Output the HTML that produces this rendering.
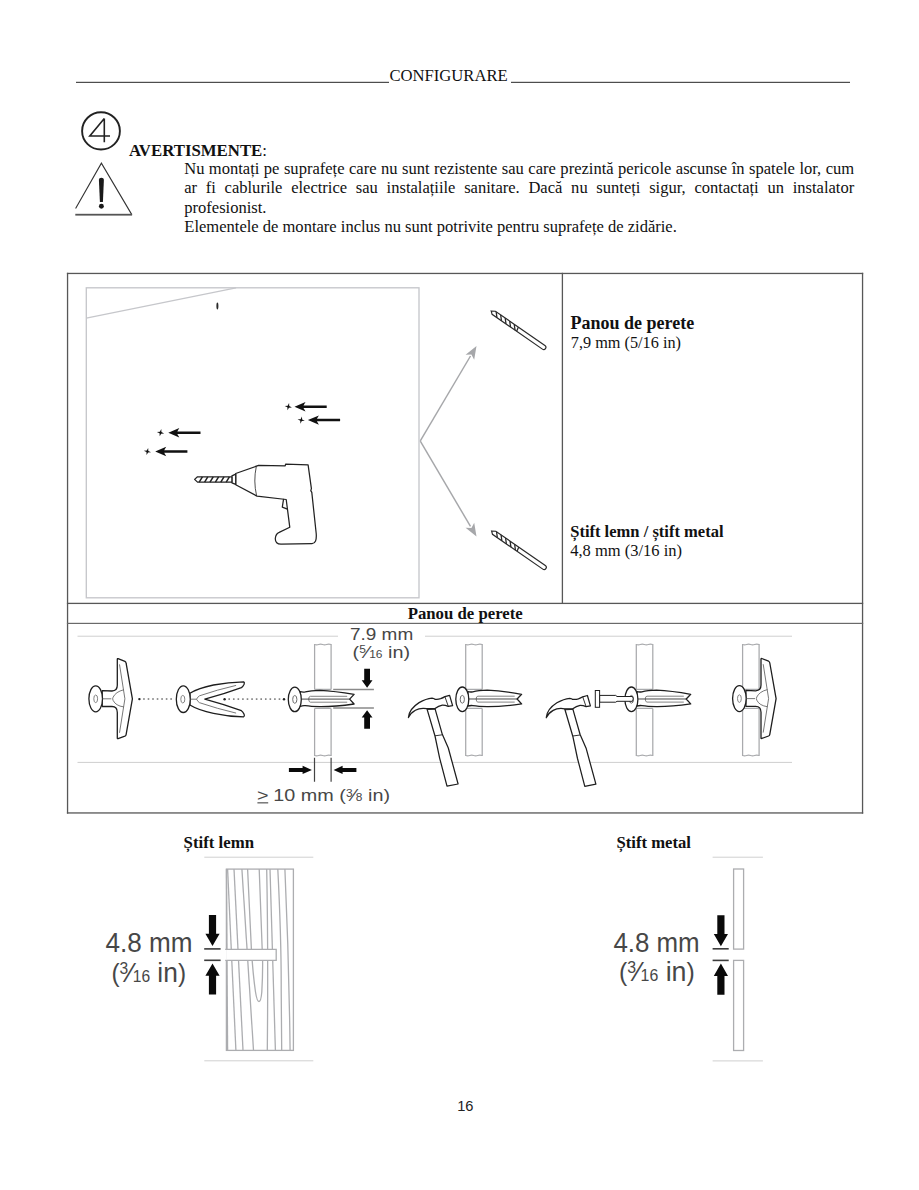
<!DOCTYPE html>
<html><head><meta charset="utf-8"><title>Configurare</title>
<style>
html,body{margin:0;padding:0;background:#fff;}
body{width:919px;height:1190px;overflow:hidden;position:relative;font-family:"Liberation Serif",serif;color:#111;}
svg{position:absolute;left:0;top:0;}
.j{position:absolute;white-space:nowrap;font-size:16.55px;line-height:19px;text-align:justify;text-align-last:justify;}
</style></head><body>
<svg width="919" height="1190" viewBox="0 0 919 1190" font-family="Liberation Serif">
<!-- header -->
<g id="hdr">
<rect x="76" y="81.8" width="313" height="1.1" fill="#3a3a3a"/>
<rect x="511" y="81.8" width="339" height="1.1" fill="#3a3a3a"/>
<text x="389.4" y="80.6" font-size="16.65" fill="#111">CONFIGURARE</text>
</g>
<!-- step circle 4 -->
<g id="step" fill="none" stroke="#222">
<ellipse cx="101" cy="130.9" rx="18.9" ry="18.6" stroke-width="1.9"/>
<path d="M104.3,118.6 L89.8,136 L110,136 M104.3,118.6 L104.3,142.3" stroke-width="1.6" stroke-linejoin="miter"/>
</g>
<!-- warning triangle -->
<g id="warn">
<path d="M75.6,208.6 L101.4,163.2 L131.8,214.6" fill="none" stroke="#333" stroke-width="1.1"/>
<rect x="75.3" y="213.8" width="56.8" height="1.8" fill="#555"/>
<path d="M98.9,179.8 Q98.9,177.7 101.4,177.7 Q103.9,177.7 103.9,179.8 L102.9,202 L99.9,202 Z" fill="#1a1a1a"/>
<circle cx="101.4" cy="206.3" r="2.45" fill="#1a1a1a"/>
</g>
<!-- warning text -->
<text x="128.9" y="155.7" font-size="16.8" font-weight="bold" fill="#111">AVERTISMENTE<tspan font-weight="normal">:</tspan></text>
<text x="184.3" y="212.5" font-size="16.55" fill="#111">profesionist.</text>
<text x="184.3" y="231.6" font-size="16.55" fill="#111">Elementele de montare inclus nu sunt potrivite pentru suprafețe de zidărie.</text>

<!-- table -->
<g id="table" fill="#575757">
<rect x="66.9" y="272.8" width="796.3" height="1.3"/>
<rect x="66.9" y="272.8" width="1.3" height="540.8"/>
<rect x="861.9" y="272.8" width="1.3" height="540.8"/>
<rect x="66.9" y="812.3" width="796.3" height="1.3"/>
<rect x="561.75" y="272.8" width="1.3" height="331"/>
<rect x="66.9" y="602.75" width="796.3" height="1.3"/>
<rect x="66.9" y="622.8" width="796.3" height="1.2" fill="#6a6a6a"/>
</g>
<text x="570.6" y="328.7" font-size="18" font-weight="bold" fill="#111">Panou de perete</text>
<text x="570.8" y="347.9" font-size="16.25" fill="#111">7,9 mm (5/16 in)</text>
<text x="570.2" y="537.3" font-size="16.55" font-weight="bold" fill="#111">Știft lemn / știft metal</text>
<text x="570.2" y="556.1" font-size="16.5" fill="#111">4,8 mm (3/16 in)</text>
<text x="407.7" y="619" font-size="16.75" font-weight="bold" fill="#111">Panou de perete</text>


<!-- FIGURE 1: wall + drill -->
<g id="fig1">
<rect x="86.3" y="287.8" width="332.7" height="310" fill="none" stroke="#c6c7cb" stroke-width="1.35"/>
<line x1="86.3" y1="318.2" x2="236" y2="287.8" stroke="#c6c7cb" stroke-width="1.3"/>
<ellipse cx="217.4" cy="306" rx="1" ry="3.4" fill="#2a2a2a"/>
<defs>
<path id="cross" d="M0,-3.7 L0.8,-0.8 L3.7,0 L0.8,0.8 L0,3.7 L-0.8,0.8 L-3.7,0 L-0.8,-0.8 Z" transform="rotate(12)"/>
<path id="barr" d="M0,0 L11,-4.7 L9,-1.25 L32.2,-1.25 L32.2,1.25 L9,1.25 L11,4.7 Z"/>
</defs>
<g fill="#111">
<use href="#cross" x="288.3" y="406.7"/><use href="#barr" x="294.5" y="406.7"/>
<use href="#cross" x="301.2" y="420.1"/><use href="#barr" x="307.9" y="420.1"/>
<use href="#cross" x="160.5" y="432.7"/><use href="#barr" x="168.3" y="432.7"/>
<use href="#cross" x="147.4" y="451.5"/><use href="#barr" x="155.2" y="451.5"/>
</g>
<!-- drill -->
<g fill="#fff" stroke="#222" stroke-width="1.25" stroke-linejoin="round">
<path d="M235.7,473.5 L258.6,465.4 L285.2,465.8 L285.6,464.2 L308.1,464.9 L311.4,488.6 L310.8,490.6 L311.8,492.4 L316.2,533.5 Q317,543.4 312,543.6 L281,544.2 Q275.2,544 275.3,538.5 Q275.8,533.6 279.2,532.4 L289.8,527.3 L286.2,499.5 L257,496.1 L235.7,484.7 Z"/>
<path d="M283.6,498.8 L282.3,507.2 L287.4,509.2" fill="none"/>
<path d="M256.3,466.5 Q253.2,481 256.6,495.8" fill="none" stroke-width="0.8"/>
<path d="M231.9,475.8 L235.7,474.2 L235.7,484.4 L231.9,482.8 Z"/>
<path d="M194.6,479.4 L197.5,476.8 L231.9,476.8 L231.9,482.1 L197.5,482.1 Z"/>
<path d="M199.2,482.1 L202.4,476.8 M204.6,482.1 L207.8,476.8 M210,482.1 L213.2,476.8 M215.4,482.1 L218.6,476.8 M220.8,482.1 L224,476.8 M226.2,482.1 L229.4,476.8" fill="none" stroke-width="1.5"/>
</g>
<!-- gray arrows -->
<g stroke="#a6a7aa" stroke-width="1.45" fill="none">
<line x1="420.3" y1="440.8" x2="470.5" y2="356"/>
<line x1="420.3" y1="441.2" x2="470.5" y2="526.4"/>
</g>
<g fill="#a6a7aa">
<path d="M0,0 L-13,-5 L-10,0 L-13,5 Z" transform="translate(476.5,346) rotate(-59.35)"/>
<path d="M0,0 L-13,-5 L-10,0 L-13,5 Z" transform="translate(476.5,536.5) rotate(59.5)"/>
</g>
<!-- drill bits -->
<defs>
<g id="bit" fill="#fff" stroke="#2a2a2a" stroke-width="1.2">
<path d="M0,0 L3.6,-2.2 L63.8,-2.2 Q66,-2.2 66,0 Q66,2.2 63.8,2.2 L2.6,2.2 Z"/>
<path d="M4.5,-2.2 L8.5,2.2 M10,-2.2 L14,2.2 M15.5,-2.2 L19.5,2.2 M21,-2.2 L25,2.2 M26.5,-2.2 L30.5,2.2 M31.5,-2.2 L32.5,2.2" stroke-width="1.3"/>
</g>
</defs>
<use href="#bit" transform="translate(491.2,311) rotate(34.7)"/>
<use href="#bit" transform="translate(491.6,531) rotate(34.7)"/>
</g>


<!-- FIGURE 2: toggle anchor sequence -->
<g id="fig2">
<defs>
<g id="tanchor" stroke="#1e1e1e" stroke-width="1.3" fill="#fff" stroke-linejoin="round">
<path d="M6.5,-8.2 L16.3,-7.8 Q21.6,-8 21.6,-13.5 L21.6,-39.6 Q21.6,-40.4 22.4,-40.1 L29.2,-37.4 Q30.3,-36.8 30.4,-35.6 L36.7,0.1 L30.4,35.8 Q30.2,37 29.2,37.4 L22.4,39.8 Q21.6,40.1 21.6,39.3 L21.6,13.6 Q21.6,7.7 16.3,7.7 L6.5,7.7 Z"/>
<ellipse cx="0" cy="0" rx="6.8" ry="13"/>
<ellipse cx="0" cy="0" rx="1.9" ry="3.8" stroke="#777" stroke-width="0.9"/>
<path d="M6.8,0 L15.6,0 M28,-9 Q20,-7 17.4,-1.6 Q16.5,0 17.4,1.6 Q20,7 28,8.1 M23.8,-34.4 L29.2,0 L23.8,34" fill="none" stroke="#555" stroke-width="0.8"/>
</g>
<g id="canchor" stroke="#1e1e1e" stroke-width="1.3" fill="#fff" stroke-linejoin="round">
<path d="M5.5,-7.7 Q8,-7 10.5,-7.5 Q16,-8.9 25,-9.1 Q40,-8.4 59.3,-5 L54.8,-0.3 L59.3,4.6 Q40,7.4 25,7.3 Q16,7.1 10.5,6.3 Q8,6 5.5,6.9 Z"/>
<ellipse cx="0" cy="0" rx="6.5" ry="12.3"/>
<ellipse cx="0" cy="0" rx="2.1" ry="3.9" stroke="#666" stroke-width="0.95"/>
<path d="M52.4,-3.1 L15.6,-3.1 Q13.9,-3.1 13.9,-0.3 Q13.9,2.8 15.6,2.8 L52.4,2.8" fill="none" stroke="#777" stroke-width="0.9"/>
<path d="M6.5,-0.3 L54.8,-0.3" fill="none" stroke="#333" stroke-width="0.9"/>
</g>
<g id="wall" stroke="#a9aaad" stroke-width="1.25" fill="none">
<path d="M0,0 L0,45.4 M16.5,0 L16.5,45.4 M0,64.4 L0,112 M16.5,64.4 L16.5,112 M0,45.4 L16.5,45.4 M0,64.4 L16.5,64.4"/>
<path d="M0,0.5 Q2,1.3 4,0.5 T8,0.5 T12,0.5 T16.5,0.5 M0,111.5 Q2,112.3 4,111.5 T8,111.5 T12,111.5 T16.5,111.5"/>
</g>
<g id="hammer" stroke="#1e1e1e" stroke-width="1.25" fill="#fff" stroke-linejoin="round">
<path d="M426.9,708.6 L435,736 L439.7,758.3 L447,786.1 L458.1,784 L448.3,748 L442.3,734.3 L435,708.6 Z"/>
<path d="M408.4,717.6 Q409,709 419.1,702.6 Q426,698.6 432,698.1 Q434,698.4 434.6,699.1 Q437.5,699.6 440.6,698.7 Q443,697.8 444.9,696.6 L449.6,695.3 L452.6,705.6 L448.3,706.4 Q445,705 442.3,705.1 Q438.5,705.8 435,708.6 L426.9,708.6 Q420,707.5 415.4,710.2 Q410.5,713 408.4,717.6 Z"/>
<path d="M444.9,696.6 L448.3,706.4 M427.3,709.6 L435,709.2 M435,735.8 L442.3,734.8" fill="none" stroke-width="0.9"/>
</g>
</defs>
<!-- guide lines -->
<g fill="#cfcfcf">
<rect x="77.5" y="635.7" width="260.5" height="1"/>
<rect x="425" y="635.7" width="367" height="1"/>
<rect x="77.5" y="761.9" width="714.5" height="1"/>
</g>
<!-- walls -->
<use href="#wall" x="314.6" y="644"/>
<use href="#wall" x="465.7" y="644"/>
<use href="#wall" x="636.3" y="644"/>
<use href="#wall" x="742.6" y="644"/>
<!-- dotted lines -->
<g fill="#222">
<circle cx="139.4" cy="699.1" r="1.2"/>
<circle cx="224.6" cy="699.2" r="1.2"/>
<circle cx="284" cy="699.2" r="1.2"/>
</g>
<g fill="#7a7a7a"><rect x="143.15" y="698.2" width="1.6" height="1.6"/><rect x="147.68" y="698.2" width="1.6" height="1.6"/><rect x="152.21" y="698.2" width="1.6" height="1.6"/><rect x="156.74" y="698.2" width="1.6" height="1.6"/><rect x="161.27" y="698.2" width="1.6" height="1.6"/><rect x="165.80" y="698.2" width="1.6" height="1.6"/><rect x="170.33" y="698.2" width="1.6" height="1.6"/><rect x="228.40" y="698.3" width="1.6" height="1.6"/><rect x="232.97" y="698.3" width="1.6" height="1.6"/><rect x="237.54" y="698.3" width="1.6" height="1.6"/><rect x="242.11" y="698.3" width="1.6" height="1.6"/><rect x="246.68" y="698.3" width="1.6" height="1.6"/><rect x="251.25" y="698.3" width="1.6" height="1.6"/><rect x="255.82" y="698.3" width="1.6" height="1.6"/><rect x="260.39" y="698.3" width="1.6" height="1.6"/><rect x="264.96" y="698.3" width="1.6" height="1.6"/><rect x="269.53" y="698.3" width="1.6" height="1.6"/><rect x="274.10" y="698.3" width="1.6" height="1.6"/><rect x="278.67" y="698.3" width="1.6" height="1.6"/></g>
<!-- anchors -->
<use href="#tanchor" x="95.7" y="698.8"/>
<g transform="translate(183.3,699.2)" stroke="#1e1e1e" stroke-width="1.3" fill="#fff" stroke-linejoin="round">
<path d="M6.6,-6 Q15,-11 30.2,-14.2 Q45,-17 60.4,-17.3 Q61.5,-16.6 60.8,-15 Q59.6,-12.5 58.1,-11.6 Q40,-5 21.5,0 Q40,5 58.1,11.5 Q59.6,12.5 60.8,15 Q61.5,17 60.4,17.6 Q45,17.4 30.2,14.1 Q15,11 6.6,5.8 Z"/>
<ellipse cx="0" cy="0" rx="7" ry="13.3"/>
<ellipse cx="-0.5" cy="0" rx="2" ry="3.8" stroke="#777" stroke-width="0.9"/>
<path d="M7,0 L13.2,0 Q15,-3 16.2,-3.4 Q34,-9.5 52.8,-13.8 M13.2,0 Q15,3 16.2,3.5 Q34,9.5 52.8,13.9" fill="none" stroke="#555" stroke-width="0.8"/>
</g>
<use href="#canchor" x="294.8" y="699.4"/>
<use href="#canchor" x="462.3" y="699.3"/>
<use href="#canchor" x="631.4" y="699.3"/>
<use href="#tanchor" x="739.4" y="698.6"/>
<!-- pin -->
<g stroke="#1e1e1e" stroke-width="1" fill="#fff">
<path d="M599.6,695.4 L615.7,695.4 L617,696.5 L632.5,696.5 Q634,698.8 632.5,701.3 L617,701.3 L615.7,702.2 L599.6,702.2 Z"/>
<rect x="595.3" y="690.5" width="4.3" height="16.8"/>
</g>
<!-- hammers -->
<use href="#hammer"/>
<use href="#hammer" x="137.8" y="0.2"/>
<!-- dimension 7.9 -->
<g stroke="#8a8a8a" stroke-width="1.5" fill="none">
<path d="M333.2,689.6 L373.9,689.6 M333.2,707.9 L373.9,707.9"/>
</g>
<g stroke="#444" stroke-width="1.2" fill="none">
<path d="M314.5,757.8 L314.5,781.8 M331.1,757.8 L331.1,781.8"/>
</g>
<g fill="#0a0a0a">
<path d="M364.2,668.8 L370,668.8 L370,680.2 L372.5,680.2 L367.1,687.8 L361.7,680.2 L364.2,680.2 Z"/>
<path d="M364.2,728.7 L370,728.7 L370,717.6 L372.5,717.6 L367.1,710.3 L361.7,717.6 L364.2,717.6 Z"/>
<path d="M288.9,767.9 L302.6,767.9 L302.6,765.8 L311.9,769.9 L302.6,774 L302.6,771.9 L288.9,771.9 Z"/>
<path d="M356.4,767.9 L342.6,767.9 L342.6,765.8 L333.6,769.9 L342.6,774 L342.6,771.9 L356.4,771.9 Z"/>
</g>
<g font-family="Liberation Sans" fill="#474747">
<text x="350" y="640.1" font-size="16.6" textLength="63.2" lengthAdjust="spacingAndGlyphs">7.9 mm</text>
<text x="352.6" y="657.6" font-size="16.6" textLength="57.5" lengthAdjust="spacingAndGlyphs">(<tspan font-size="10" dy="-4.6">5</tspan><tspan dy="4.6">⁄</tspan><tspan font-size="10">16</tspan> in)</text>
<text x="257" y="801.2" font-size="16.6" textLength="133" lengthAdjust="spacingAndGlyphs">&gt;<tspan dx="4">10 mm (</tspan><tspan font-size="10" dy="-4.6">3</tspan><tspan dy="4.6">⁄</tspan><tspan font-size="10">8</tspan> in)</text>
</g>
<rect x="257.4" y="802.3" width="10.8" height="1.1" fill="#474747"/>
</g>


<!-- FIGURE 3: studs -->
<g id="fig3">
<g fill="#d0d0d0">
<rect x="204.3" y="856.7" width="109" height="1"/>
<rect x="204.3" y="1060.3" width="109" height="1"/>
<rect x="712.6" y="856.7" width="50.3" height="1"/>
<rect x="712.6" y="1060.4" width="50.3" height="1"/>
</g>
<!-- wood -->
<g stroke="#acadb0" stroke-width="1.3" fill="none">
<path d="M226.5,869 L227.6,1050.4"/>
<path d="M227.6,869 L235.9,1050.4"/>
<path d="M234,869 L243,1050.4"/>
<path d="M241.9,869 L253.5,1050.4"/>
<path d="M247.6,869 L251.4,949.4 Q253,975 255.5,992 Q257,1001.5 259,1001.5 Q261,1001.5 261.8,992 Q262.8,975 262.6,960 L259.2,869"/>
<path d="M266.7,869 Q268.3,950 267.3,1050.4"/>
<path d="M270,869 L275.4,1050.4"/>
<path d="M277.8,869 Q281.4,940 281.2,990 L281.7,1050.4"/>
<path d="M284.9,869 Q289,960 290.1,1050.4"/>
<rect x="226.4" y="869.1" width="67" height="181.3"/>
</g>
<path d="M225.9,949.4 L276.2,949.4 L276.2,960.4 L225.9,960.4 Z" fill="#fff" stroke="#acadb0" stroke-width="1.3"/>
<rect x="224" y="950" width="2.8" height="9.8" fill="#fff"/>
<!-- metal -->
<g stroke="#acadb0" stroke-width="1.3" fill="none">
<rect x="733.6" y="869" width="10" height="80.1"/>
<rect x="733.6" y="960.4" width="10" height="90.1"/>
</g>
<!-- dims -->
<g fill="#3c3c3c">
<rect x="204.2" y="948.1" width="16.4" height="1.6"/>
<rect x="204.2" y="959.5" width="16.4" height="1.6"/>
<rect x="712.6" y="948" width="16.1" height="1.6"/>
<rect x="712.6" y="959.6" width="16.1" height="1.6"/>
</g>
<defs>
<path id="bigdown" d="M-3.6,0 L3.6,0 L3.6,18.8 L7.1,18.8 L0,31.1 L-7.1,18.8 L-3.6,18.8 Z"/>
</defs>
<g fill="#0a0a0a">
<use href="#bigdown" x="212.5" y="915"/>
<use href="#bigdown" transform="translate(212.5,994.5) scale(1,-1)"/>
<use href="#bigdown" x="720.9" y="915.2"/>
<use href="#bigdown" transform="translate(720.9,994.7) scale(1,-1)"/>
</g>
<g font-family="Liberation Sans" fill="#474747" font-size="27">
<text x="105.4" y="952" textLength="87" lengthAdjust="spacingAndGlyphs">4.8 mm</text>
<text x="111.5" y="982" textLength="74.5" lengthAdjust="spacingAndGlyphs"><tspan font-size="25">(</tspan><tspan font-size="16" dy="-7.8">3</tspan><tspan dy="7.8">⁄</tspan><tspan font-size="16">16</tspan> in<tspan font-size="25">)</tspan></text>
<text x="613.4" y="951.6" textLength="86.3" lengthAdjust="spacingAndGlyphs">4.8 mm</text>
<text x="619" y="980.6" textLength="75.8" lengthAdjust="spacingAndGlyphs"><tspan font-size="25">(</tspan><tspan font-size="16" dy="-7.8">3</tspan><tspan dy="7.8">⁄</tspan><tspan font-size="16">16</tspan> in<tspan font-size="25">)</tspan></text>
</g>
</g>

<!-- bottom labels -->
<text x="183.6" y="847.9" font-size="16.8" font-weight="bold" fill="#111">Știft lemn</text>
<text x="616.5" y="847.9" font-size="16.65" font-weight="bold" fill="#111">Știft metal</text>
<text x="457.2" y="1111" font-size="14.6" font-family="Liberation Sans" fill="#222" textLength="16.3" lengthAdjust="spacingAndGlyphs">16</text>
</svg>
<div class="j" style="left:184.2px;top:159.1px;width:670px;">Nu montați pe suprafețe care nu sunt rezistente sau care prezintă pericole ascunse în spatele lor, cum</div>
<div class="j" style="left:184.2px;top:178.1px;width:670px;">ar fi cablurile electrice sau instalațiile sanitare. Dacă nu sunteți sigur, contactați un instalator</div>
</body></html>
